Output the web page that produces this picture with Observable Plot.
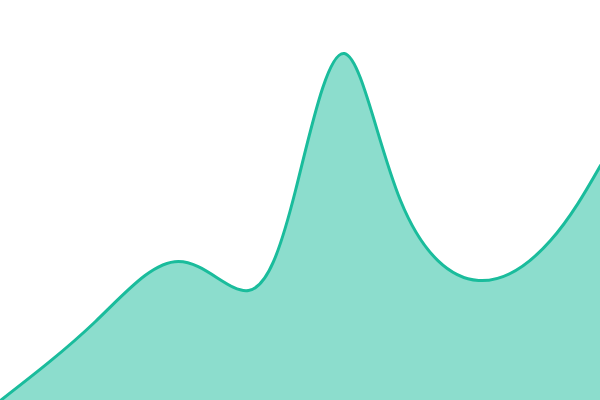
<!DOCTYPE html>
<html>
<head>
<meta charset="utf-8">
<script src="https://cdn.jsdelivr.net/npm/d3@7"></script>
<script src="https://cdn.jsdelivr.net/npm/@observablehq/plot@0.6"></script>
<style>
  html, body { margin: 0; padding: 0; background: #fff; }
  #chart svg { display: block; }
</style>
</head>
<body>
<div id="chart"></div>
<script>
const xs = [0, 95, 178, 248, 295, 344, 400, 478, 550, 600];
const values = [0, 79, 139, 110, 210, 347, 200, 120, 160, 235];

const data = xs.map((x, i) => ({x, y: values[i]}));

const chart = Plot.plot({
  width: 600,
  height: 400,
  margin: 0,
  x: {domain: [0, 600], axis: null},
  y: {domain: [0, 400], axis: null},
  marks: [
    Plot.areaY(data, {x: "x", y: "y", curve: "natural", fill: "#1abc9c", fillOpacity: 0.5}),
    Plot.lineY(data, {x: "x", y: "y", curve: "natural", stroke: "#1abc9c", strokeWidth: 3})
  ]
});
document.getElementById("chart").appendChild(chart);
</script>
</body>
</html>
